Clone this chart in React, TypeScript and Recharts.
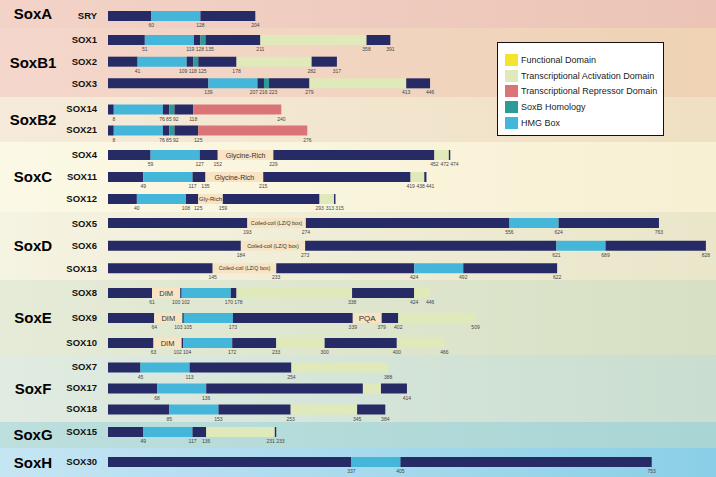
import React from "react";
import { BarChart, Bar, XAxis, YAxis, Cell, LabelList, Legend } from "recharts";

// groups and their genes (top to bottom)
const GROUP_NAMES = ["SoxA", "SoxB1", "SoxB2", "SoxC", "SoxD", "SoxE", "SoxF", "SoxG", "SoxH"];
const GROUP_GENES = [
  ["SRY"],
  ["SOX1", "SOX2", "SOX3"],
  ["SOX14", "SOX21"],
  ["SOX4", "SOX11", "SOX12"],
  ["SOX5", "SOX6", "SOX13"],
  ["SOX8", "SOX9", "SOX10"],
  ["SOX7", "SOX17", "SOX18"],
  ["SOX15"],
  ["SOX30"],
];

// segment end positions (amino acids), per gene
const GENES = ["SRY", "SOX1", "SOX2", "SOX3", "SOX14", "SOX21", "SOX4", "SOX11", "SOX12", "SOX5", "SOX6", "SOX13", "SOX8", "SOX9", "SOX10", "SOX7", "SOX17", "SOX18", "SOX15", "SOX30"];
const ENDS = [
  [60, 128, 204],
  [51, 119, 128, 135, 211, 358, 391],
  [41, 109, 118, 125, 178, 282, 317],
  [139, 207, 216, 223, 279, 413, 446],
  [8, 76, 85, 92, 118, 240],
  [8, 76, 85, 92, 125, 276],
  [59, 127, 152, 229, 452, 472, 474],
  [49, 117, 135, 215, 419, 438, 441],
  [40, 108, 125, 159, 293, 313, 315],
  [193, 274, 556, 624, 763],
  [184, 273, 621, 689, 828],
  [145, 233, 424, 492, 622],
  [61, 100, 102, 170, 178, 338, 424, 446],
  [64, 103, 105, 173, 339, 379, 402, 509],
  [63, 102, 104, 172, 233, 300, 400, 466],
  [45, 113, 254, 388],
  [68, 136, 353, 378, 414],
  [85, 153, 253, 345, 384],
  [49, 117, 136, 231, 233],
  [337, 405, 753],
];
// N = other, H = HMG box, S = SoxB homology, A = activation, R = repressor, G = named motif
const KINDS = [
  "NHN", "NHNSNAN", "NHNSNAN", "NHNSNAN", "NHNSNR", "NHNSNR",
  "NHNGNAN", "NHNGNAN", "NHNGNAN", "NGNHN", "NGNHN", "NGNHN",
  "NGNHNANA", "NGNHNGNA", "NGNHNANA", "NHNA", "NHNAN", "NHNAN", "NHNAN", "NHN",
];
const MOTIFS: Record<string, string[]> = {
  SOX4: ["Glycine-Rich"],
  SOX11: ["Glycine-Rich"],
  SOX12: ["Gly-Rich"],
  SOX5: ["Coiled-coil (LZ/Q box)"],
  SOX6: ["Coiled-coil (LZ/Q box)"],
  SOX13: ["Coiled-coil (LZ/Q box)"],
  SOX8: ["DIM"],
  SOX9: ["DIM", "PQA"],
  SOX10: ["DIM"],
};
const UNLABELLED: Record<string, number[]> = { SOX17: [353, 378] };

const LEGEND_NAMES = ["Functional Domain", "Transcriptional Activation Domain", "Transcriptional Repressor Domain", "SoxB Homology", "HMG Box"];
const LEGEND_COLORS = ["#f4e52c", "#dfe9b9", "#db7476", "#2c9a96", "#44b6da"];

const COLORS: Record<string, string> = {
  N: "#272b65",
  H: "#44b6da",
  S: "#2c9a96",
  A: "#dfe9b9",
  R: "#db7476",
  G: "#f8e3c3",
};
const MOTIF_FONT: Record<string, number> = {
  "Glycine-Rich": 7,
  "Gly-Rich": 6,
  "Coiled-coil (LZ/Q box)": 5.3,
  DIM: 7.5,
  PQA: 8,
};

// layout
const W = 716;
const LABEL_W = 108;
const BAND_H = [28, 69, 45, 70, 68, 75, 67, 26, 29];
const BAND_MARGIN = [[4, 0], [1, 3], [1.5, 1.5], [2, 2], [0, 0], [0, 0], [1.5, 2.5], [0, 6], [0, 1]];
const BAND_LEFT = ["#f3d3c8", "#f4d6cc", "#f6ebdb", "#fbf8e5", "#f5f3e1", "#e5ebd7", "#e1ebe1", "#bddfdd", "#c6e5f3"];
const BAND_RIGHT = ["#ebc4b6", "#efd3b4", "#efe0c3", "#f8f0d3", "#eae6ca", "#d7e0c4", "#c9ded0", "#a9d5d5", "#8acfe7"];
const XMAX = 842;
const PPA = (W - LABEL_W) / XMAX;
const MAXSEG = 8;
const FONT = "'Liberation Sans', Arial, sans-serif";

// spread end labels that would collide (pixel offsets only)
const spreadLabels = (vals: (number | undefined)[]) => {
  const idx = vals.map((v, k) => (v === undefined ? -1 : k)).filter((k) => k >= 0);
  const base = idx.map((k) => (vals[k] as number) * PPA);
  const wid = idx.map((k) => String(vals[k]).length * 2.8 + 1.2);
  const p = [...base];
  for (let it = 0; it < 60; it++) {
    for (let j = 0; j + 1 < p.length; j++) {
      const need = (wid[j] + wid[j + 1]) / 2;
      const d = p[j + 1] - p[j];
      if (d < need) {
        const s = (need - d) / 2;
        p[j] -= s;
        p[j + 1] += s;
      }
    }
  }
  const off: Record<number, number> = {};
  idx.forEach((k, j) => (off[k] = p[j] - base[j]));
  return off;
};

const buildRows = (genes: string[]) =>
  genes.map((g) => {
    const gi = GENES.indexOf(g);
    const row: any = { gene: g };
    let prev = 0;
    let mi = 0;
    const hidden = UNLABELLED[g] || [];
    const shown = ENDS[gi].map((e) => (hidden.includes(e) ? undefined : e));
    const off = spreadLabels(shown);
    ENDS[gi].forEach((e, k) => {
      const kind = KINDS[gi][k];
      row[`s${k}`] = e - prev;
      row[`k${k}`] = kind;
      row[`e${k}`] = shown[k] === undefined ? undefined : { v: e, o: off[k] || 0 };
      row[`m${k}`] = kind === "G" ? (MOTIFS[g] || [])[mi++] : undefined;
      prev = e;
    });
    return row;
  });

const EndLabel = (props: any) => {
  const { x, y, width, height, value } = props;
  if (!value || typeof value !== "object") return null;
  return (
    <text x={x + width + value.o} y={y + height + 6} fontSize={5} fill="#444" textAnchor="middle" fontFamily={FONT}>
      {value.v}
    </text>
  );
};

const MotifLabel = (props: any) => {
  const { x, y, width, height, value } = props;
  if (!value) return null;
  return (
    <text
      x={x + width / 2}
      y={y + height / 2 + (MOTIF_FONT[value] || 6) * 0.36}
      fontSize={MOTIF_FONT[value] || 6}
      fill="#333"
      textAnchor="middle"
      fontFamily={FONT}
    >
      {value}
    </text>
  );
};

const GeneTick = (props: any) => {
  const { y, payload } = props;
  return (
    <text x={97} y={y + 3.4} fontSize={9.5} fontWeight="bold" fill="#111" textAnchor="end" fontFamily={FONT}>
      {payload.value}
    </text>
  );
};

const GroupLabel = (props: any) => {
  const { name, h } = props;
  return (
    <text x={33} y={h / 2 + 5} fontSize={15} fontWeight="bold" fill="#000" textAnchor="middle" fontFamily={FONT}>
      {name}
    </text>
  );
};

const LegendBox = () => (
  <div
    style={{
      width: 167,
      height: 94,
      boxSizing: "border-box",
      border: "1.5px solid #111",
      background: "#fff",
      padding: "9px 0 0 7px",
      fontFamily: FONT,
    }}
  >
    {LEGEND_NAMES.map((n, i) => (
      <div key={n} style={{ display: "flex", alignItems: "center", height: 15.8 }}>
        <span style={{ width: 13, height: 12, background: LEGEND_COLORS[i], marginRight: 3, display: "inline-block" }} />
        <span style={{ fontSize: 9, color: "#222", whiteSpace: "nowrap" }}>{n}</span>
      </div>
    ))}
  </div>
);

const Band = ({ gi }: { gi: number }) => {
  const h = BAND_H[gi];
  const rows = buildRows(GROUP_GENES[gi]);
  return (
    <div style={{ width: W, height: h, background: `linear-gradient(to right, ${BAND_LEFT[gi]}, ${BAND_RIGHT[gi]})` }}>
      <BarChart
        width={W}
        height={h}
        data={rows}
        layout="vertical"
        margin={{ top: BAND_MARGIN[gi][0], bottom: BAND_MARGIN[gi][1], left: 0, right: 0 }}
      >
        <XAxis type="number" domain={[0, XMAX]} hide allowDataOverflow />
        <YAxis
          type="category"
          dataKey="gene"
          width={LABEL_W}
          axisLine={false}
          tickLine={false}
          tick={<GeneTick />}
          interval={0}
          label={<GroupLabel name={GROUP_NAMES[gi]} h={h} />}
        />
        {Array.from({ length: MAXSEG }, (_, k) => (
          <Bar key={k} dataKey={`s${k}`} stackId="a" barSize={10} isAnimationActive={false}>
            {rows.map((r, i) => (
              <Cell key={i} fill={COLORS[r[`k${k}`]] || "none"} />
            ))}
            <LabelList dataKey={`m${k}`} content={<MotifLabel />} />
            <LabelList dataKey={`e${k}`} content={<EndLabel />} />
          </Bar>
        ))}
        {gi === 1 && (
          <Legend
            content={() => <LegendBox />}
            layout="horizontal"
            verticalAlign="middle"
            align="center"
            wrapperStyle={{ left: 497, top: 14, width: 167, height: 94, zIndex: 10 }}
          />
        )}
      </BarChart>
    </div>
  );
};

export default function App() {
  return (
    <div style={{ position: "absolute", left: 0, top: 0, width: W, fontFamily: FONT }}>
      {GROUP_NAMES.map((_, gi) => (
        <Band key={gi} gi={gi} />
      ))}
    </div>
  );
}
